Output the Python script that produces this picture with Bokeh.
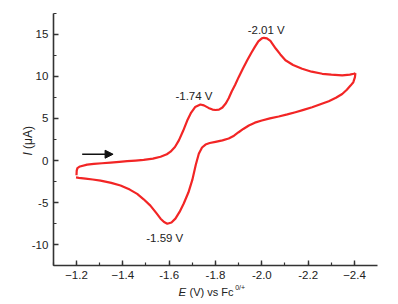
import math
from bokeh.plotting import figure
from bokeh.models import Range1d, SingleIntervalTicker, Label, Arrow, NormalHead, ColumnDataSource
from bokeh.embed import file_html
from bokeh.resources import INLINE

# Cyclic voltammogram: forward scan (-1.2 -> -2.4 V) then reverse scan back to -1.2 V
potential_fwd = [-1.200, -1.201, -1.204, -1.215, -1.246, -1.275, -1.310, -1.347, -1.385, -1.419,
                 -1.455, -1.490, -1.530, -1.563, -1.590, -1.606, -1.625, -1.642, -1.660, -1.678,
                 -1.695, -1.712, -1.735, -1.750, -1.770, -1.787, -1.800, -1.815, -1.830, -1.845,
                 -1.857, -1.870, -1.885, -1.900, -1.918, -1.937, -1.955, -1.970, -1.985, -2.000,
                 -2.009, -2.022, -2.037, -2.060, -2.080, -2.102, -2.135, -2.174, -2.215, -2.261,
                 -2.300, -2.347, -2.380, -2.397, -2.404]
current_fwd = [-1.75, -1.20, -0.90, -0.70, -0.48, -0.40, -0.32, -0.24, -0.15, -0.08,
               0.00, 0.08, 0.22, 0.45, 0.75, 1.05, 1.60, 2.40, 3.50, 4.75,
               5.70, 6.35, 6.65, 6.55, 6.25, 6.05, 6.00, 6.05, 6.30, 6.80,
               7.40, 8.20, 9.00, 9.90, 10.90, 11.90, 12.80, 13.50, 14.15, 14.50,
               14.57, 14.50, 14.20, 13.30, 12.60, 11.90, 11.35, 10.90, 10.55, 10.30,
               10.20, 10.12, 10.20, 10.30, 10.37]
potential_rev = [-2.404, -2.402, -2.395, -2.383, -2.367, -2.347, -2.320, -2.289, -2.250, -2.217,
                 -2.180, -2.145, -2.110, -2.073, -2.035, -2.000, -1.970, -1.944, -1.920, -1.900,
                 -1.880, -1.857, -1.830, -1.800, -1.775, -1.757, -1.742, -1.728, -1.715, -1.700,
                 -1.683, -1.663, -1.645, -1.627, -1.610, -1.592, -1.578, -1.563, -1.545, -1.519,
                 -1.490, -1.462, -1.430, -1.390, -1.350, -1.304, -1.270, -1.239, -1.210, -1.198]
current_rev = [10.37, 9.90, 9.30, 8.90, 8.40, 7.90, 7.45, 7.05, 6.65, 6.33,
               6.02, 5.74, 5.48, 5.23, 5.00, 4.75, 4.50, 4.16, 3.75, 3.36,
               2.95, 2.62, 2.40, 2.22, 2.08, 1.90, 1.55, 0.80, -0.50, -2.30,
               -3.80, -5.10, -6.10, -6.90, -7.35, -7.50, -7.30, -6.90, -6.25, -5.35,
               -4.60, -3.96, -3.45, -2.97, -2.65, -2.38, -2.25, -2.14, -2.05, -2.00]

x_ticks = [-1.2, -1.4, -1.6, -1.8, -2.0, -2.2, -2.4]
x_tick_labels = ["-1.2", "-1.4", "-1.6", "-1.8", "-2.0", "-2.2", "-2.4"]
y_ticks = [-10, -5, 0, 5, 10, 15]
y_tick_labels = ["-10", "-5", "0", "5", "10", "15"]
x_axis_span = (-2.5, -1.1)
y_axis_span = (-12.5, 17.5)

peak_labels = ["-1.74 V", "-2.01 V", "-1.59 V"]
peak_label_x = [-1.707, -2.019, -1.581]
peak_label_y = [7.64, 15.52, -9.23]

FONT = "Liberation Sans"
AXIS_COLOR = "#333333"
TEXT_COLOR = "#222222"

# the frame covers the whole canvas; the axes sit at fixed data locations inside it
p = figure(width=398, height=304, output_backend="svg", toolbar_location=None,
           x_range=Range1d(-0.872, -2.590), y_range=Range1d(-17.09, 19.0),
           min_border=0, background_fill_color="white", border_fill_color="white")
p.outline_line_color = None
p.xgrid.visible = False
p.ygrid.visible = False

p.xaxis.ticker = SingleIntervalTicker(interval=0.2, num_minor_ticks=2)
p.yaxis.ticker = SingleIntervalTicker(interval=5, num_minor_ticks=2)
p.xaxis.major_label_overrides = dict(zip(x_ticks, x_tick_labels))
p.yaxis.major_label_overrides = dict(zip(y_ticks, y_tick_labels))
p.xaxis.fixed_location = y_axis_span[0]
p.yaxis.fixed_location = x_axis_span[1]
p.xaxis.bounds = x_axis_span
p.yaxis.bounds = y_axis_span
for ax in (p.xaxis, p.yaxis):
    ax.axis_line_color = AXIS_COLOR
    ax.axis_line_width = 1.6
    ax.major_tick_line_color = AXIS_COLOR
    ax.major_tick_line_width = 1.4
    ax.minor_tick_line_color = AXIS_COLOR
    ax.minor_tick_line_width = 1.2
    ax.major_tick_in = 5
    ax.major_tick_out = 0
    ax.minor_tick_in = 3
    ax.minor_tick_out = 0
    ax.major_label_text_font = FONT
    ax.major_label_text_font_size = "11.5px"
    ax.major_label_text_color = TEXT_COLOR
    ax.major_label_standoff = 5

src_f = ColumnDataSource(dict(x=potential_fwd, y=current_fwd))
src_r = ColumnDataSource(dict(x=potential_rev, y=current_rev))
p.line("x", "y", source=src_f, line_color="#f22525", line_width=2.2, line_join="round")
p.line("x", "y", source=src_r, line_color="#f22525", line_width=2.2, line_join="round")

p.add_layout(Arrow(end=NormalHead(size=8, fill_color="#111111", line_color="#111111", line_width=1),
                   x_start=-1.2246, y_start=0.75, x_end=-1.358, y_end=0.75,
                   line_color="#111111", line_width=1.5))

for t, xx, yy in zip(peak_labels, peak_label_x, peak_label_y):
    p.add_layout(Label(x=xx, y=yy, text=t, text_font=FONT, text_font_size="11.5px",
                       text_color=TEXT_COLOR, text_align="center", text_baseline="middle"))

def dlabel(x, y, text, size="11.5px", style="normal", angle=0.0):
    p.add_layout(Label(x=x, y=y, text=text, text_font=FONT, text_font_size=size,
                       text_font_style=style, text_color=TEXT_COLOR,
                       text_baseline="middle", angle=angle))

# x-axis title: E (V) vs Fc^0/+
dlabel(-1.6403, -15.66, "E", style="italic")
dlabel(-1.6878, -15.66, "(V) vs Fc", size="11px")
dlabel(-1.8850, -15.10, "0/+", size="7px")
# y-axis title: I (μA), rotated
dlabel(-0.9928, 0.60, "I", size="12px", style="italic", angle=math.pi / 2)
dlabel(-0.9928, 1.37, "(μA)", size="12px", angle=math.pi / 2)

open("out.html", "w").write(file_html(p, INLINE))
